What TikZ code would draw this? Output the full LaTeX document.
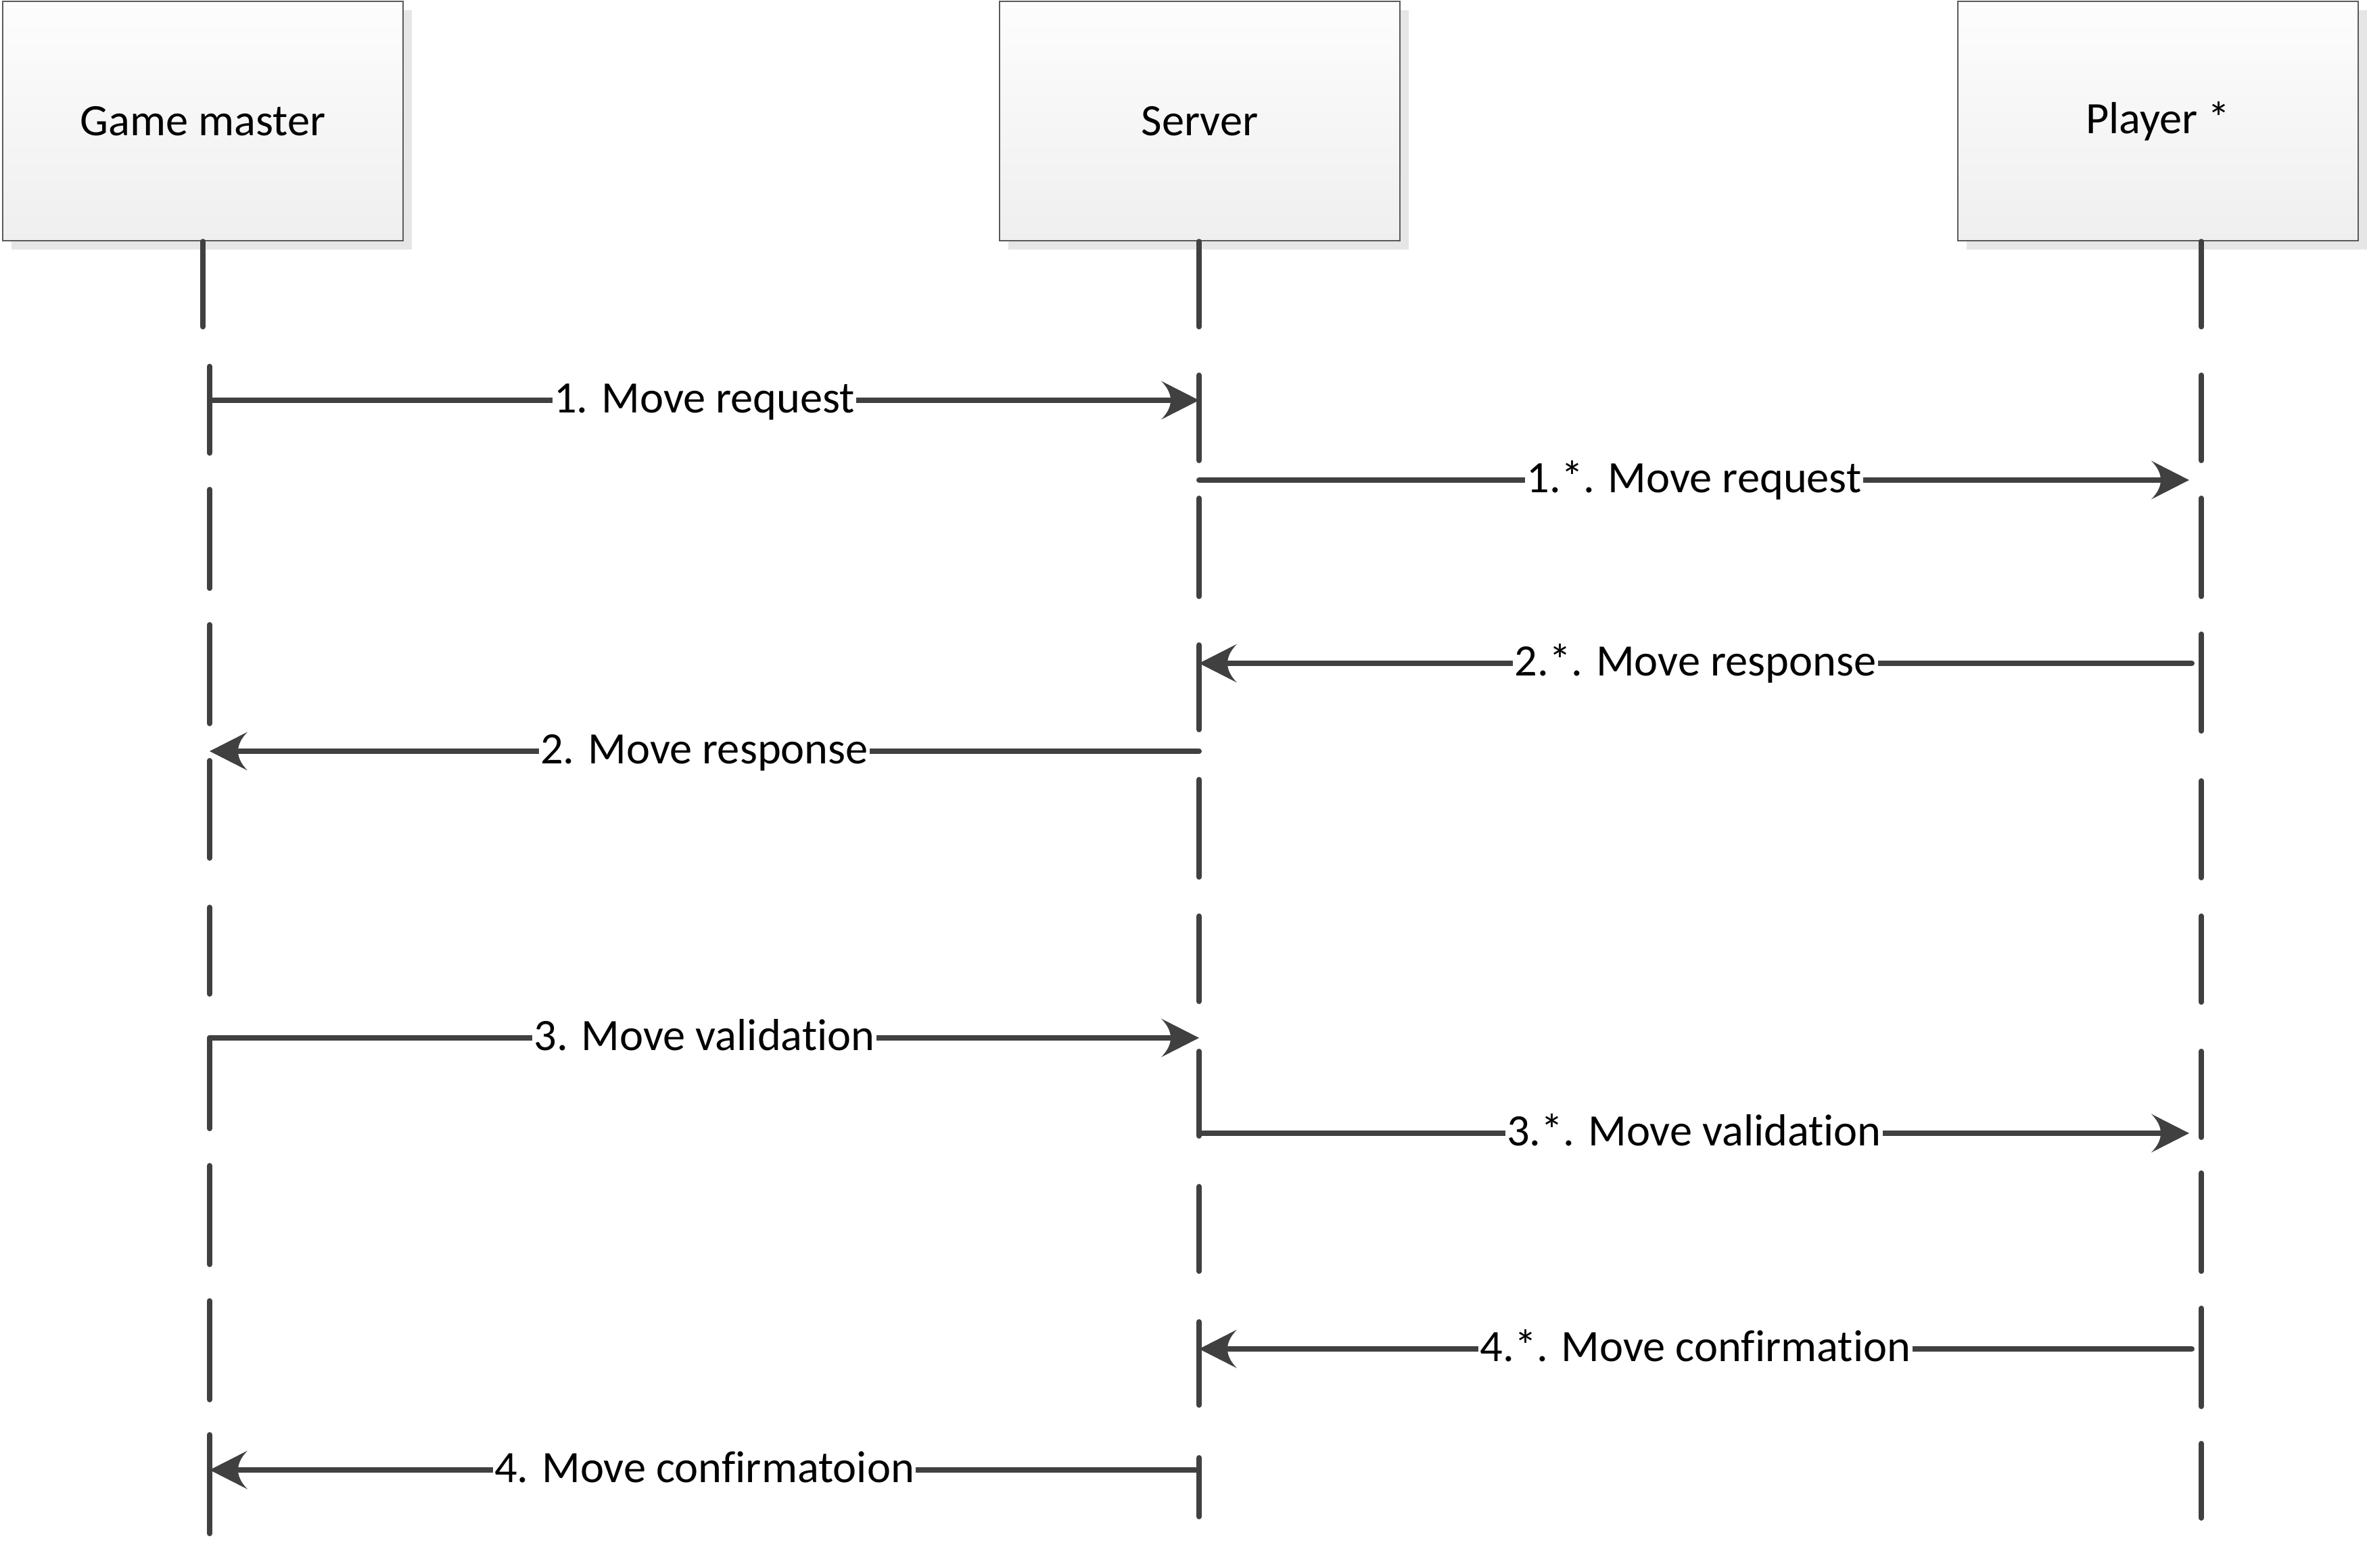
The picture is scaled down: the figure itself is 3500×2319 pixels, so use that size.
\documentclass[tikz,border=0pt]{standalone}
\usepackage{fontspec}
\setmainfont[Ligatures={NoCommon,NoRare,NoDiscretionary}]{Carlito}
\usetikzlibrary{arrows.meta,shadows}
\definecolor{ln}{HTML}{404040}
\definecolor{bd}{HTML}{5A5A5A}
\definecolor{topc}{HTML}{FDFDFD}
\definecolor{botc}{HTML}{EFEFEF}
\definecolor{shd}{HTML}{E6E6E6}
\pgfdeclarearrow{
  name=Visio,
  parameters={\the\pgfarrowlength,\the\pgfarrowwidth},
  setup code={
    \pgfarrowssettipend{0pt}
    \pgfarrowssetbackend{-\pgfarrowlength}
    \pgfarrowssetlineend{-.6\pgfarrowlength}
    \pgfarrowssavethe\pgfarrowlength
    \pgfarrowssavethe\pgfarrowwidth
  },
  drawing code={
    \pgfpathmoveto{\pgfqpoint{0pt}{0pt}}
    \pgfpathlineto{\pgfqpoint{-\pgfarrowlength}{.5\pgfarrowwidth}}
    \pgfpathquadraticcurveto{\pgfqpoint{-.5\pgfarrowlength}{0pt}}{\pgfqpoint{-\pgfarrowlength}{-.5\pgfarrowwidth}}
    \pgfpathclose
    \pgfusepathqfill
  },
  defaults={length=14bp, width=14.25bp}
}
\begin{document}
\begin{tikzpicture}[x=0.25bp,y=-0.25bp,
  font=\fontsize{16.6bp}{20bp}\selectfont,
  actor/.style={draw=bd, line width=0.6bp, top color=topc, bottom color=botc,
    minimum width=148bp, minimum height=88.5bp, inner sep=0pt,
    drop shadow={shadow xshift=3.25bp, shadow yshift=-3.25bp, fill=shd, opacity=1}},
  life/.style={draw=ln, line width=2bp, line cap=round},
  msg/.style={draw=ln, line width=2bp, line cap=round, -{Visio[length=14bp,width=14.25bp]}},
  lbl/.style={fill=white, inner xsep=0.6bp, inner ysep=1.5bp, text height=0.63em, text depth=0pt, text=black, yshift=-1.5bp}]
\useasboundingbox (0,0) rectangle (3500,2319);
\fill[white] (0,0) rectangle (3500,2319);
% actors
\node[actor] (gm)  at (300,179)  {Game master};
\node[actor] (srv) at (1774,179) {Server};
\node[actor] (pl)  at (3191,179) {Player *};
% lifelines
\draw[life] (gm.south) -- ++(0,126);
\draw[life] (srv.south) ++(-1,0) -- ++(0,126);
\draw[life] (pl.south) ++(64,0) -- ++(0,126);
\foreach \a/\b in {542/670,724/870,924/1070,1125/1269,1342/1470,1535/1669,1724/1870,1924/2070,2122/2268}
  \draw[life] (310,\a) -- (310,\b);
\foreach \a/\b in {555/681,737/882,954/1079,1153/1297,1355/1481,1555/1680,1755/1880,1955/2078,2156/2243}
  \draw[life] (1773,\a) -- (1773,\b);
\foreach \a/\b in {555/681,737/882,938/1081,1155/1298,1355/1482,1555/1682,1735/1880,1935/2080,2135/2245}
  \draw[life] (3255,\a) -- (3255,\b);
% message end points
\coordinate (g1) at (310,592);   \coordinate (s1) at (1773,592);
\coordinate (s1a) at (1773,710); \coordinate (p1a) at (3237,710);
\coordinate (p2a) at (3241,981); \coordinate (s2a) at (1773,981);
\coordinate (s2) at (1773,1111); \coordinate (g2) at (310,1111);
\coordinate (g3) at (310,1535);  \coordinate (s3) at (1773,1535);
\coordinate (s3a) at (1773,1676); \coordinate (p3a) at (3237,1676);
\coordinate (p4a) at (3241,1995); \coordinate (s4a) at (1773,1995);
\coordinate (s4) at (1773,2174); \coordinate (g4) at (310,2174);
% messages
\draw[msg] (g1) -- node[lbl] {1. Move request} (s1);
\draw[msg] (s1a) -- node[lbl] {1.*. Move request} (p1a);
\draw[msg] (p2a) -- node[lbl] {2.*. Move response} (s2a);
\draw[msg] (s2) -- node[lbl] {2. Move response} (g2);
\draw[msg] (g3) -- node[lbl] {3. Move validation} (s3);
\draw[msg] (s3a) -- node[lbl] {3.*. Move validation} (p3a);
\draw[msg] (p4a) -- node[lbl] {4.*. Move confirmation} (s4a);
\draw[msg] (s4) -- node[lbl] {4. Move confirmatoion} (g4);
\end{tikzpicture}
\end{document}
